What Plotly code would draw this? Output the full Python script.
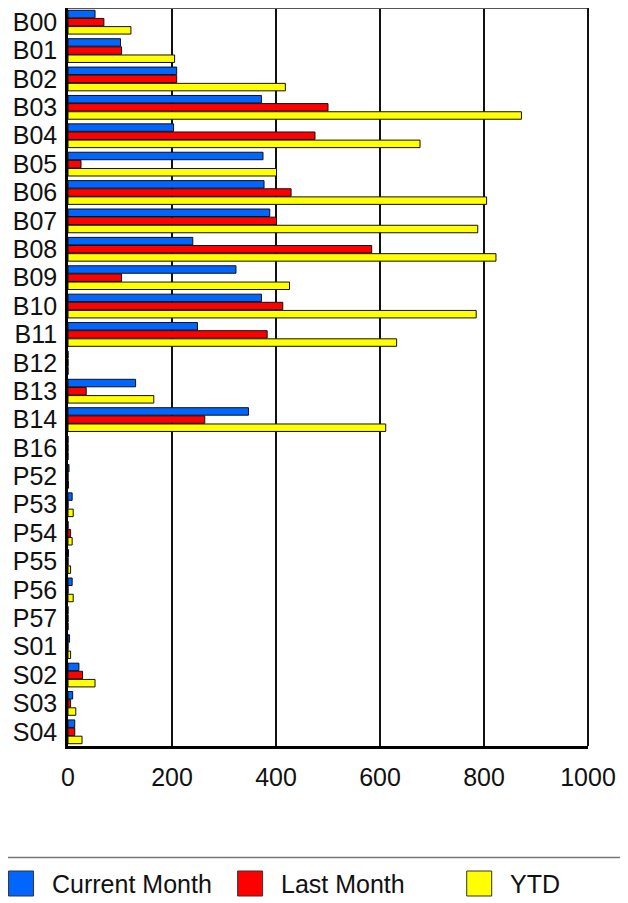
import plotly.graph_objects as go

categories = ["B00", "B01", "B02", "B03", "B04", "B05", "B06", "B07", "B08", "B09",
              "B10", "B11", "B12", "B13", "B14", "B16", "P52", "P53", "P54", "P55",
              "P56", "P57", "S01", "S02", "S03", "S04"]
current_month = [52, 101, 209, 372, 203, 375, 377, 388, 240, 323,
                 372, 249, 0, 130, 347, 0, 2, 8, 0, 1,
                 8, 0, 3, 21, 9, 13]
last_month = [69, 103, 209, 500, 475, 25, 429, 401, 584, 103,
              413, 383, 0, 35, 263, 0, 0, 0, 5, 0,
              0, 0, 0, 28, 5, 13]
ytd = [121, 205, 418, 872, 677, 401, 805, 788, 823, 426,
       785, 632, 0, 165, 611, 0, 1, 10, 8, 5,
       10, 0, 5, 52, 15, 27]
series_names = ["Current Month", "Last Month", "YTD"]
series_colors = ["#0066FF", "#FF0000", "#FFFF00"]
x_ticks = [0, 200, 400, 600, 800, 1000]

FONT = "Arial, Liberation Sans, sans-serif"
OFF = 8  # page body margin offset
W, H = 620, 895
ML, MR, MT, MB = 59.5, 40, 0, 157
PW, PH = W - ML - MR, H - MT - MB

fig = go.Figure()
for name, vals, col in zip(series_names, [current_month, last_month, ytd], series_colors):
    fig.add_trace(go.Bar(
        y=categories, x=vals, name=name, orientation="h",
        marker=dict(color=col, line=dict(color="#111111", width=1)),
        showlegend=False,
    ))

def px_x(sx):
    return (sx - OFF - ML) / PW

def px_y(sy):
    return (H - MB - (sy - OFF)) / PH

shapes = [
    dict(type="line", xref="paper", yref="paper", x0=0, x1=1, y0=1, y1=1,
         line=dict(color="#555555", width=2)),
    dict(type="line", xref="paper", yref="paper", x0=1, x1=1, y0=0, y1=1,
         line=dict(color="#111111", width=2)),
    dict(type="line", xref="paper", yref="paper", x0=px_x(0), x1=px_x(640),
         y0=px_y(857.5), y1=px_y(857.5), line=dict(color="#777777", width=1.5)),
]
annotations = []
for i, (name, col) in enumerate(zip(series_names, series_colors)):
    x0 = 8 + i * 229.3
    shapes.append(dict(type="rect", xref="paper", yref="paper",
                       x0=px_x(x0), x1=px_x(x0 + 25), y0=px_y(896), y1=px_y(871),
                       fillcolor=col, line=dict(color="#333333", width=1)))
    annotations.append(dict(xref="paper", yref="paper", x=px_x(x0 + 41), y=px_y(883.5),
                            text=name, showarrow=False, xanchor="left", yanchor="middle",
                            font=dict(family=FONT, size=25, color="#111111")))

fig.update_layout(
    width=W, height=H,
    margin=dict(l=ML, r=MR, t=MT, b=MB, pad=0, autoexpand=False),
    paper_bgcolor="white", plot_bgcolor="white",
    barmode="group", bargap=0.14, bargroupgap=0.08,
    font=dict(family=FONT, size=25, color="#111111"),
    shapes=shapes, annotations=annotations,
    xaxis=dict(range=[0, 1000], tickmode="array", tickvals=x_ticks,
               ticktext=[str(v) for v in x_ticks], automargin=False,
               showgrid=True, gridcolor="#111111", gridwidth=1.5,
               showline=True, linecolor="#000000", linewidth=3,
               ticks="outside", ticklen=7, tickcolor="rgba(0,0,0,0)",
               zeroline=False, tickfont=dict(family=FONT, size=25, color="#111111")),
    yaxis=dict(autorange="reversed", showgrid=False, automargin=False,
               tickmode="array", tickvals=categories, ticktext=categories,
               showline=True, linecolor="#000000", linewidth=2.5,
               ticks="outside", ticklen=3, tickcolor="rgba(0,0,0,0)",
               tickfont=dict(family=FONT, size=25, color="#111111")),
)

fig.write_html("out.html")
